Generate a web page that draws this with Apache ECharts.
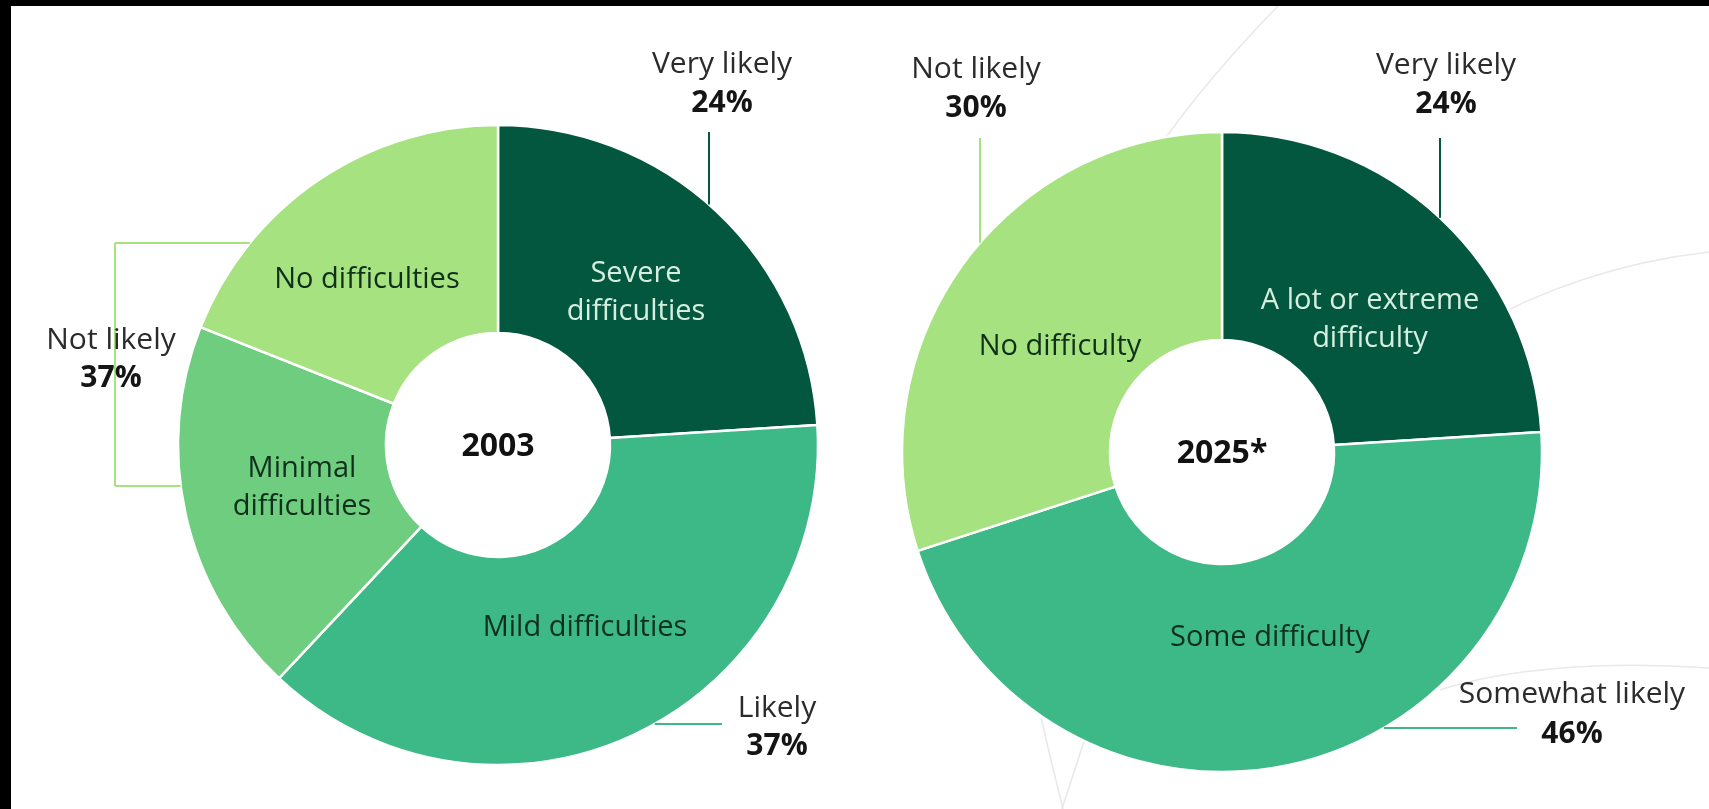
<!DOCTYPE html>
<html>
<head>
<meta charset="utf-8">
<script src="https://cdn.jsdelivr.net/npm/echarts@6/dist/echarts.min.js"></script>
<style>
html,body{margin:0;padding:0;background:#fff;}
#chart{width:1709px;height:809px;}
</style>
</head>
<body>
<div id="chart"></div>
<script>
// ---- data ----
const years = ['2003', '2025*'];
const categories2003 = ['Severe difficulties', 'Mild difficulties', 'Minimal difficulties', 'No difficulties'];
const values2003 = [24, 38, 19, 19];
const categories2025 = ['A lot or extreme difficulty', 'Some difficulty', 'No difficulty'];
const values2025 = [24, 46, 30];
const groupNames2003 = ['Very likely', 'Likely', 'Not likely'];
const groupValues2003 = [24, 37, 37];
const groupNames2025 = ['Very likely', 'Somewhat likely', 'Not likely'];
const groupValues2025 = [24, 46, 30];

// ---- style / layout ----
const FONT = '"Open Sans", "Noto Sans", sans-serif';
const DARK = '#03573f', MID = '#3db887', MINI = '#6ecd7e', LIGHT = '#a6e280';
const colors2003 = [DARK, MID, MINI, LIGHT];
const colors2025 = [DARK, MID, LIGHT];
const R_IN = 112, R_OUT = 320;
const pies = [{cx: 498, cy: 445}, {cx: 1222, cy: 452}];
const wraps = {
  'Severe difficulties': 'Severe\ndifficulties',
  'Minimal difficulties': 'Minimal\ndifficulties',
  'A lot or extreme difficulty': 'A lot or extreme\ndifficulty'
};
const innerLabelPos = [
  [[636, 293], [585, 628], [302, 488], [367, 280]],
  [[1370, 320], [1270, 638], [1060, 347]]
];

function topEdge(p, x) { return p.cy - Math.sqrt(R_OUT * R_OUT - (x - p.cx) * (x - p.cx)); }
function leftEdge(p, y) { return p.cx - Math.sqrt(R_OUT * R_OUT - (y - p.cy) * (y - p.cy)); }
function rightEdge(p, y) { return p.cx + Math.sqrt(R_OUT * R_OUT - (y - p.cy) * (y - p.cy)); }

function makeData(cats, vals, cols) {
  return cats.map((c, i) => ({
    name: c, value: vals[i],
    itemStyle: {color: cols[i]},
    label: {color: cols[i] === DARK ? '#d6eee0' : '#10301c'}
  }));
}

function pieSeries(idx, cats, vals, cols) {
  return {
    type: 'pie',
    center: [pies[idx].cx, pies[idx].cy],
    radius: [R_IN, R_OUT],
    startAngle: 90,
    clockwise: true,
    avoidLabelOverlap: false,
    silent: true,
    animation: false,
    itemStyle: {borderColor: '#ffffff', borderWidth: 2.5},
    label: {
      show: true, position: 'inside',
      formatter: p => wraps[p.name] || p.name,
      fontFamily: FONT, fontSize: 29, lineHeight: 38, align: 'center'
    },
    labelLine: {show: false},
    labelLayout: p => ({
      x: innerLabelPos[idx][p.dataIndex][0],
      y: innerLabelPos[idx][p.dataIndex][1],
      align: 'center', verticalAlign: 'middle'
    }),
    data: makeData(cats, vals, cols),
    z: 2
  };
}

// outer annotation helpers
function outerLabel(x, yName, yPct, name, value) {
  return [
    {type: 'text', x: x, y: yName, z: 10,
     style: {text: name, fill: '#2b2b2b', font: '30px ' + FONT, align: 'center', verticalAlign: 'middle'}},
    {type: 'text', x: x, y: yPct, z: 10,
     style: {text: value + '%', fill: '#151515', font: 'bold 30px ' + FONT, align: 'center', verticalAlign: 'middle'}}
  ];
}
function line(x1, y1, x2, y2, color) {
  return {type: 'line', z: 5, shape: {x1, y1, x2, y2}, style: {stroke: color, lineWidth: 2}};
}
function deco(pts) {
  return {type: 'bezierCurve', z: 0, silent: true,
    shape: {x1: pts[0], y1: pts[1], cpx1: pts[2], cpy1: pts[3], cpx2: pts[4], cpy2: pts[5], x2: pts[6], y2: pts[7]},
    style: {stroke: '#e9e9e9', lineWidth: 1.6, fill: null}};
}

const p0 = pies[0], p1 = pies[1];
const graphics = [];
// faint decorative arcs in background
graphics.push(deco([1278, 6, 1240, 45, 1200, 90, 1164, 140]));
graphics.push(deco([1470, 330, 1540, 290, 1620, 262, 1709, 252]));
graphics.push(deco([1440, 690, 1500, 670, 1600, 660, 1709, 668]));
graphics.push(deco([1040, 712, 1048, 750, 1056, 780, 1063, 809]));
graphics.push(deco([1086, 735, 1078, 760, 1070, 785, 1062, 809]));

// 2003 annotations
graphics.push(...outerLabel(722, 64, 103, groupNames2003[0], groupValues2003[0]));
graphics.push(line(709, 132, 709, topEdge(p0, 709), DARK));
graphics.push(...outerLabel(777, 708, 746, groupNames2003[1], groupValues2003[1]));
graphics.push(line(rightEdge(p0, 724) , 724, 722, 724, MID));
graphics.push(...outerLabel(111, 340, 378, groupNames2003[2], groupValues2003[2]));
graphics.push(line(115, 243, leftEdge(p0, 243), 243, LIGHT));
graphics.push(line(115, 243, 115, 486, LIGHT));
graphics.push(line(115, 486, leftEdge(p0, 486), 486, LIGHT));

// 2025 annotations
graphics.push(...outerLabel(1446, 65, 104, groupNames2025[0], groupValues2025[0]));
graphics.push(line(1440, 138, 1440, topEdge(p1, 1440), DARK));
graphics.push(...outerLabel(1572, 694, 734, groupNames2025[1], groupValues2025[1]));
graphics.push(line(rightEdge(p1, 728), 728, 1517, 728, MID));
graphics.push(...outerLabel(976, 69, 108, groupNames2025[2], groupValues2025[2]));
graphics.push(line(980, 138, 980, topEdge(p1, 980), LIGHT));

// centre year labels
graphics.push({type: 'text', x: p0.cx, y: p0.cy + 2, z: 10,
  style: {text: years[0], fill: '#111', font: 'bold 32px ' + FONT, align: 'center', verticalAlign: 'middle'}});
graphics.push({type: 'text', x: p1.cx, y: p1.cy + 2, z: 10,
  style: {text: years[1], fill: '#111', font: 'bold 32px ' + FONT, align: 'center', verticalAlign: 'middle'}});

// black frame bands of the original picture
graphics.push({type: 'rect', z: 20, shape: {x: 0, y: 0, width: 1709, height: 6}, style: {fill: '#000'}});
graphics.push({type: 'rect', z: 20, shape: {x: 0, y: 0, width: 11, height: 809}, style: {fill: '#000'}});

const chart = echarts.init(document.getElementById('chart'), null, {renderer: 'canvas'});
chart.setOption({
  backgroundColor: '#ffffff',
  animation: false,
  series: [
    pieSeries(0, categories2003, values2003, colors2003),
    pieSeries(1, categories2025, values2025, colors2025)
  ],
  graphic: {elements: graphics}
});
</script>
</body>
</html>
